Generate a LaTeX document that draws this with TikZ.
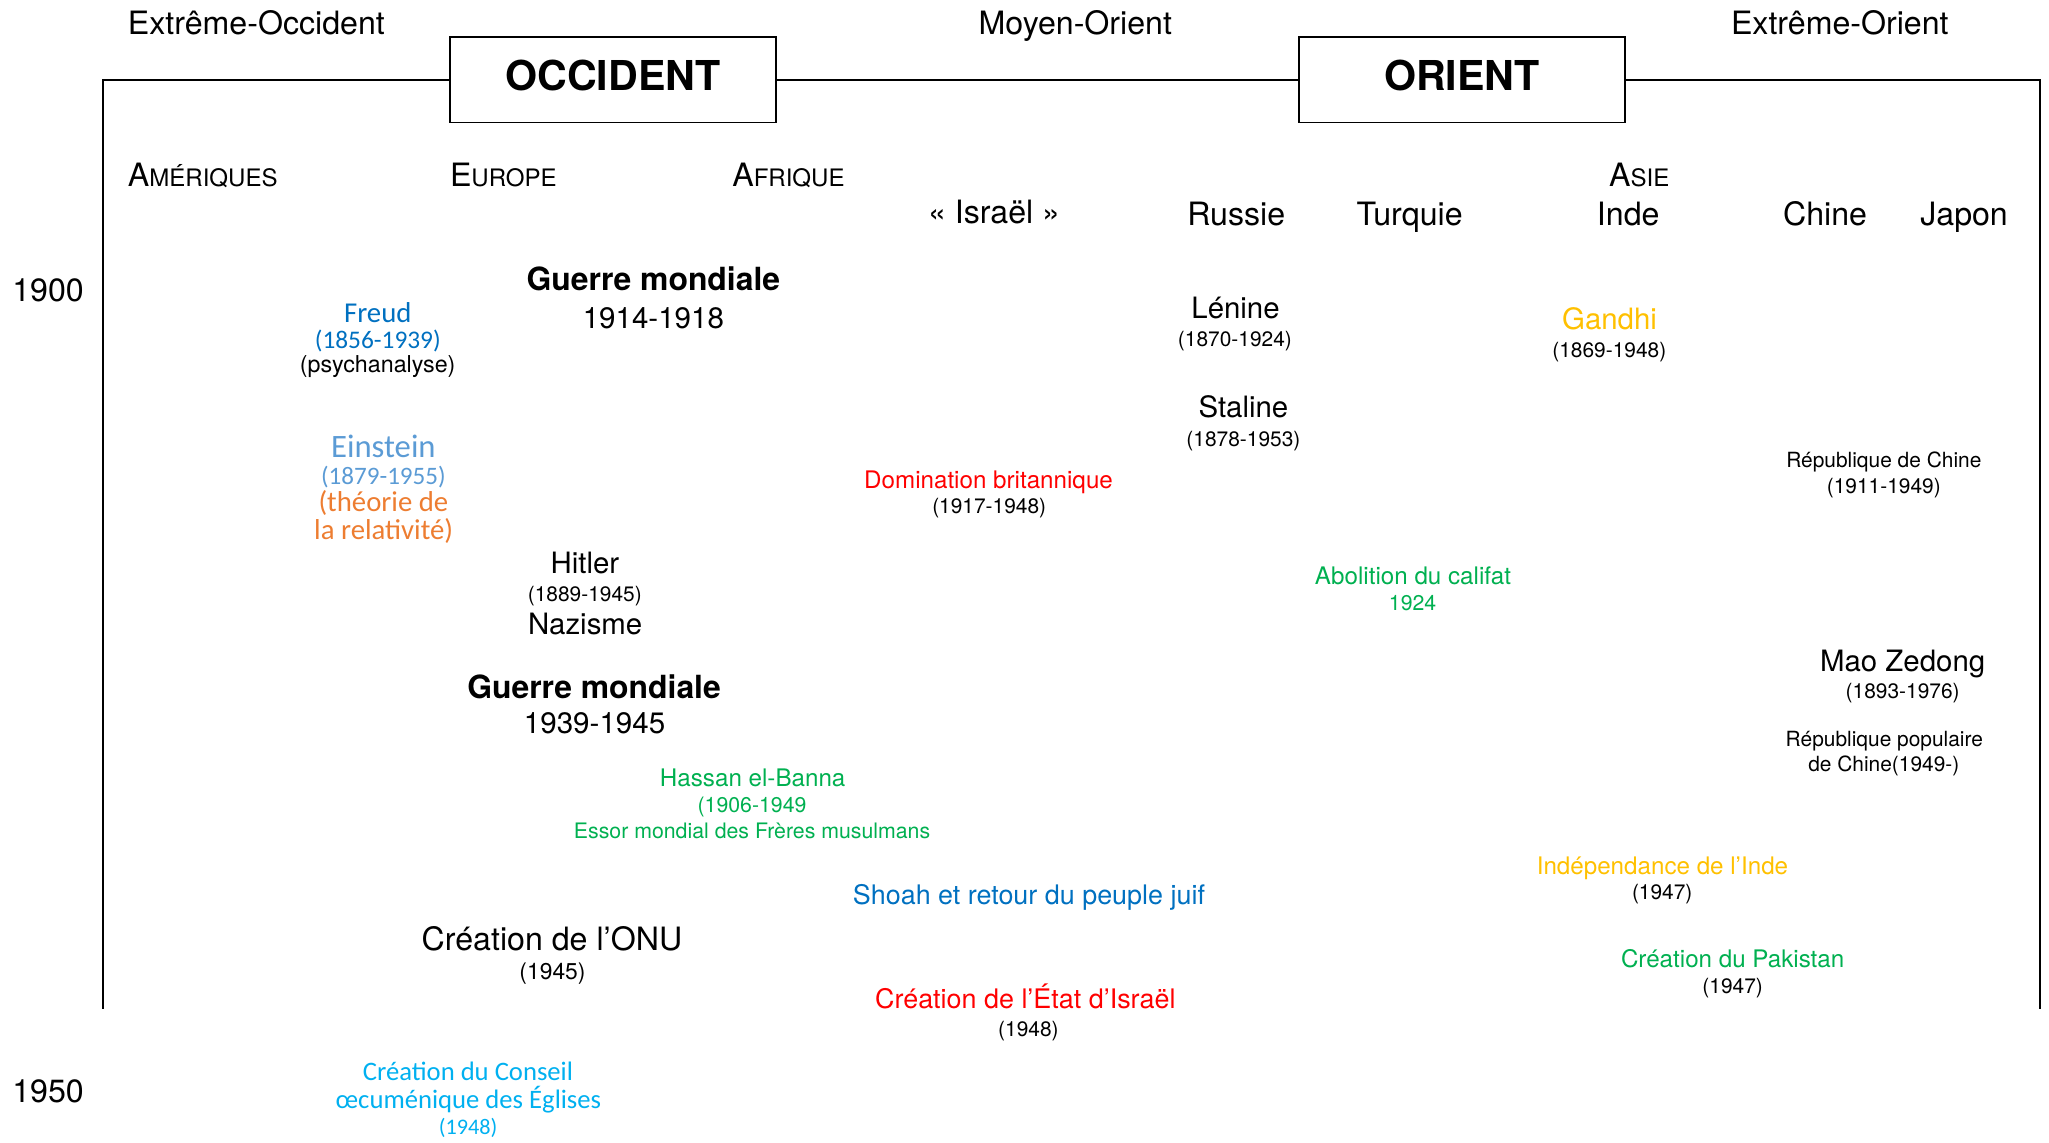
\documentclass[tikz,border=0pt]{standalone}
\usepackage{fontspec}
\setmainfont{TeX Gyre Heros}
\newfontfamily\calib{Carlito}
\usepackage{tikz}
\usetikzlibrary{positioning}
\definecolor{freudblue}{HTML}{0070C0}
\definecolor{einblue}{HTML}{5B9BD5}
\definecolor{relorange}{HTML}{ED7D31}
\definecolor{britred}{HTML}{FF0000}
\definecolor{islgreen}{HTML}{00B050}
\definecolor{indgold}{HTML}{FFC000}
\definecolor{eglcyan}{HTML}{00B0F0}
\tikzstyle{txt}=[inner sep=0pt,anchor=base]
\tikzstyle{region}=[txt,font=\fontsize{12.3}{14}\selectfont]
\tikzstyle{bigbox}=[draw,line width=0.75pt,minimum width=125pt,minimum height=32.75pt,inner sep=0pt,text depth=3.2pt,font=\fontsize{15.75}{18}\selectfont\bfseries]
\tikzstyle{frame}=[draw,line width=0.7pt]
\tikzstyle{wartitle}=[txt,font=\fontsize{12.2}{14}\selectfont\bfseries]
\tikzstyle{waryears}=[txt,font=\fontsize{11.3}{13}\selectfont]
\tikzstyle{person}=[txt,font=\fontsize{11.25}{13}\selectfont]
\tikzstyle{date}=[txt,font=\fontsize{8}{10}\selectfont]
\tikzstyle{event}=[txt,font=\fontsize{9.25}{11}\selectfont]
\tikzstyle{bigevent}=[txt,font=\fontsize{10.3}{12}\selectfont]
\newcommand{\fsc}[2]{#1{\fontsize{9.2}{10}\selectfont #2}}

\begin{document}
\begin{tikzpicture}[x=0.5pt,y=-0.5pt]
\useasboundingbox (0,0) rectangle (1568,874);

    % The two boxes and the frame
    \node[bigbox] (occ) at (469,61) {OCCIDENT};
    \node[bigbox] (ori) at (1118.75,61) {ORIENT};
    \coordinate (topleft) at (79,61);
    \coordinate (botleft) at (79,772);
    \coordinate (topright) at (1561,61);
    \coordinate (botright) at (1561,772);
    \path[frame] (botleft) -- (topleft) -- (occ.west);
    \path[frame] (occ.east) -- (ori.west);
    \path[frame] (ori.east) -- (topright) -- (botright);

    % Regions and countries
    \foreach \pos/\name/\txt in {{(196.2,26.3)/exocc/Extrême-Occident}, {(822.9,26.3)/moyor/Moyen-Orient}, {(1407.9,26.3)/exor/Extrême-Orient}, {(760.7,171.4)/israel/« Israël »}, {(946,172.2)/russie/Russie}, {(1078.7,172.2)/turquie/Turquie}, {(1246,172.2)/inde/Inde}, {(1396.6,172.2)/chine/Chine}, {(1503,172.2)/japon/Japon}}
        \node[region] (\name) at \pos {\txt};
    \foreach \pos/\name/\txt in {{(97.5,142.9)/amer/\fsc{A}{MÉRIQUES}}, {(344,142.9)/europe/\fsc{E}{UROPE}}, {(560,142.9)/afrique/\fsc{A}{FRIQUE}}, {(1231,142.9)/asie/\fsc{A}{SIE}}, {(9,230.8)/y1900/1900}, {(9,843.8)/y1950/1950}}
        \node[region,anchor=base west] (\name) at \pos {\txt};

    % The two wars
    \node[wartitle] (war1) at (500,222.4) {Guerre mondiale};
    \node[waryears] (war1y) at (500,251.2) {1914-1918};
    \node[wartitle] (war2) at (454.6,534.4) {Guerre mondiale};
    \node[waryears] (war2y) at (455,561.2) {1939-1945};

    % People and dates in black
    \foreach \pos/\name/\txt in {{(945.5,243.6)/lenine/Lénine}, {(951.5,319.6)/staline/Staline}, {(447.6,438.7)/hitler/Hitler}, {(447.8,485.9)/nazisme/Nazisme}, {(1456,513.5)/mao/Mao Zedong}}
        \node[person] (\name) at \pos {\txt};
    \node[person,text=indgold] (gandhi) at (1231.7,252) {Gandhi};
    \node[txt,font=\fontsize{12.3}{14}\selectfont] (onu) at (422.4,727) {Création de l’ONU};
    \node[txt,font=\fontsize{8.75}{10}\selectfont] (onuy) at (422.8,749.9) {(1945)};
    \node[txt,font=\fontsize{8.9}{10}\selectfont] (psy) at (289,284.9) {(psychanalyse)};
    \foreach \pos/\name/\txt in {{(945,265.3)/leniney/(1870-1924)}, {(951.5,341.3)/staliney/(1878-1953)}, {(1231.5,273.4)/gandhiy/(1869-1948)}, {(757,392.8)/dominy/(1917-1948)}, {(447.5,460.4)/hitlery/(1889-1945)}, {(1456,534.4)/maoy/(1893-1976)}, {(1441.6,377.5)/repy/(1911-1949)}, {(1441.6,357.6)/rep/République de Chine}, {(1442,571.4)/reppop/République populaire}, {(1441.6,590.5)/reppopy/de Chine(1949-)}, {(1272,688.7)/indepy/(1947)}, {(1325.9,760.1)/pakisy/(1947)}, {(787,792.8)/etaty/(1948)}}
        \node[date] (\name) at \pos {\txt};

    % Coloured events
    \foreach \pos/\name/\col/\txt in {{(756.5,373.7)/domin/britred/Domination britannique}, {(1081.3,446.9)/califat/islgreen/Abolition du califat}, {(576,601.5)/banna/islgreen/Hassan el-Banna}, {(1272.2,669.1)/indep/indgold/Indépendance de l’Inde}, {(1325.9,740.2)/pakis/islgreen/Création du Pakistan}}
        \node[event,text=\col] (\name) at \pos {\txt};
    \foreach \pos/\name/\txt in {{(1081,466.8)/califaty/1924}, {(575.5,621.9)/bannay/(1906-1949}, {(575.5,641.5)/freres/Essor mondial des Frères musulmans}}
        \node[date,text=islgreen,font=\fontsize{8.15}{10}\selectfont] (\name) at \pos {\txt};
    \node[bigevent,text=freudblue] (shoah) at (787.4,692) {Shoah et retour du peuple juif};
    \node[bigevent,text=britred] (etat) at (784.6,771.6) {Création de l’État d’Israël};

    % Freud, Einstein and the Council of Churches
    \node[txt,text=freudblue,font=\calib\fontsize{11}{13}\selectfont] (freud) at (289.1,246.9) {Freud};
    \node[txt,text=freudblue,font=\calib\fontsize{9.7}{11}\selectfont] (freudy) at (289.1,266.6) {(1856-1939)};
    \node[txt,text=einblue,font=\calib\fontsize{12.5}{14}\selectfont] (einstein) at (293.4,350.2) {Einstein};
    \node[txt,text=einblue,font=\calib\fontsize{9.6}{11}\selectfont] (einsteiny) at (293.4,371.1) {(1879-1955)};
    \node[txt,text=relorange,font=\calib\fontsize{11}{13}\selectfont] (theorie) at (293.4,391.5) {(théorie de};
    \node[txt,text=relorange,font=\calib\fontsize{11}{13}\selectfont] (relat) at (293.6,412.7) {la relativité)};
    \node[txt,text=eglcyan,font=\calib\fontsize{10.2}{12}\selectfont] (conseil) at (358.1,826.5) {Création du Conseil};
    \node[txt,text=eglcyan,font=\calib\fontsize{10.2}{12}\selectfont] (oecum) at (358.4,848.1) {œcuménique des Églises};
    \node[txt,text=eglcyan,font=\calib\fontsize{8.5}{10}\selectfont] (conseily) at (358.3,868.5) {(1948)};

\end{tikzpicture}
\end{document}
